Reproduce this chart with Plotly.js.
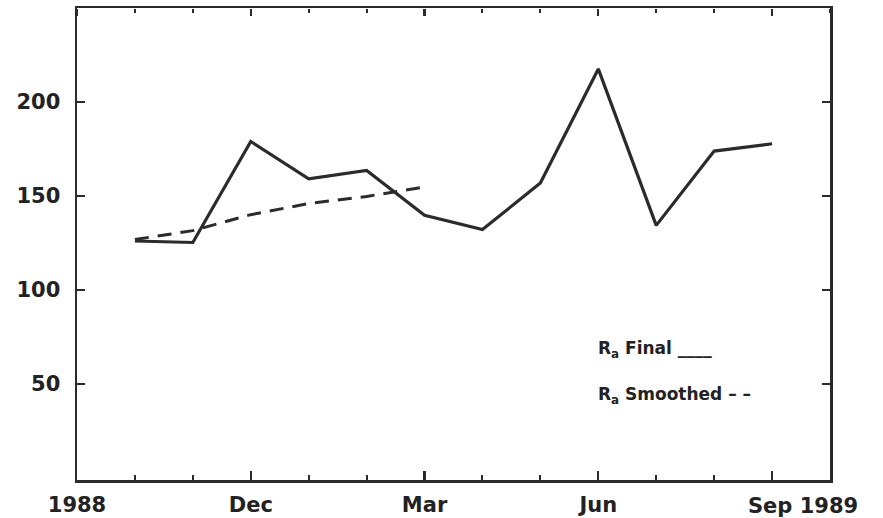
<!DOCTYPE html>
<html>
<head>
<meta charset="utf-8">
<script src="https://cdn.plot.ly/plotly-3.0.1.min.js"></script>
<style>html,body{margin:0;padding:0;background:#fff;}#chart{width:883px;height:518px;}</style>
</head>
<body>
<div id="chart"></div>
<script>
// Month index: 0 = Sep 1988, 12 = Sep 1989
const monthsFinal = [1, 2, 3, 4, 5, 6, 7, 8, 9, 10, 11, 12];
const raFinal = [126.1, 125.3, 179.0, 159.2, 163.6, 139.8, 132.2, 156.9, 217.6, 134.4, 173.9, 177.8];
const monthsSmoothed = [1, 2, 3, 4, 5, 6];
const raSmoothed = [126.9, 131.6, 140.1, 146.0, 149.8, 154.8];
const xTickVals = [0, 3, 6, 9, 12];
const xTickText = ['1988', 'Dec', 'Mar', 'Jun', ' '];
const yTickVals = [50, 100, 150, 200];

const ink = '#2b2b2b';
const fontFam = 'DejaVu Sans, sans-serif';
const tf = {family: fontFam, size: 21, color: '#222', weight: 'bold'};

const traces = [
  {x: monthsFinal, y: raFinal, mode: 'lines', line: {color: ink, width: 3.2}, showlegend: false, hoverinfo: 'skip'},
  {x: monthsSmoothed, y: raSmoothed, mode: 'lines', line: {color: ink, width: 3, dash: '14px,9px'}, showlegend: false, hoverinfo: 'skip'},
  // transparent copy on the second x axis, so its month ticks are drawn along the top edge
  {x: monthsFinal, y: raFinal, xaxis: 'x2', mode: 'lines', line: {color: 'rgba(255,255,255,0)', width: 1}, showlegend: false, hoverinfo: 'skip'}
];

const layout = {
  width: 883, height: 518,
  margin: {l: 77, r: 53, t: 8, b: 38},
  paper_bgcolor: '#ffffff', plot_bgcolor: '#ffffff',
  font: {family: fontFam, color: '#222', size: 21, weight: 'bold'},
  showlegend: false,
  xaxis: {
    range: [0, 13], showgrid: false, zeroline: false,
    showline: true, linecolor: ink, linewidth: 2.5, mirror: true,
    ticks: 'inside', ticklen: 9, tickwidth: 2.2, tickcolor: ink,
    tickmode: 'array', tickvals: xTickVals, ticktext: xTickText,
    ticklabelstandoff: 4, tickfont: tf,
    minor: {tickmode: 'linear', tick0: 0, dtick: 1, ticks: 'inside', ticklen: 5, tickwidth: 2, tickcolor: ink, showgrid: false}
  },
  // top-edge ticks: a bottom-sided axis placed at the top, with outside ticks pointing down into the plot
  xaxis2: {
    range: [0, 13], overlaying: 'x', anchor: 'free', position: 1, side: 'bottom',
    showgrid: false, zeroline: false, showline: false, showticklabels: false,
    ticks: 'outside', ticklen: 7, tickwidth: 2.2, tickcolor: ink,
    tickmode: 'array', tickvals: xTickVals,
    minor: {tickmode: 'linear', tick0: 0, dtick: 1, ticks: 'outside', ticklen: 4, tickwidth: 2, tickcolor: ink, showgrid: false}
  },
  yaxis: {
    range: [-1, 250], showgrid: false, zeroline: false,
    showline: true, linecolor: ink, linewidth: 2.5, mirror: 'ticks',
    ticks: 'inside', ticklen: 8, tickwidth: 2.2, tickcolor: ink,
    tickmode: 'array', tickvals: yTickVals,
    ticklabelstandoff: 10,
    tickfont: tf
  },
  annotations: [
    {xref: 'x', yref: 'paper', x: 12, y: 0, yshift: -12, xshift: -26, xanchor: 'left', yanchor: 'top',
     text: 'Sep 1989', showarrow: false, font: tf},
    {xref: 'paper', yref: 'paper', x: (596 - 77) / 753, y: (480 - 349) / 472, xanchor: 'left', yanchor: 'middle',
     text: 'R<sub>a</sub> Final ____', showarrow: false, font: {family: fontFam, size: 17, color: '#222', weight: 'bold'}},
    {xref: 'paper', yref: 'paper', x: (596 - 77) / 753, y: (480 - 395) / 472, xanchor: 'left', yanchor: 'middle',
     text: 'R<sub>a</sub> Smoothed – –', showarrow: false, font: {family: fontFam, size: 17, color: '#222', weight: 'bold'}}
  ]
};

Plotly.newPlot('chart', traces, layout, {displayModeBar: false, staticPlot: true});
</script>
</body>
</html>
